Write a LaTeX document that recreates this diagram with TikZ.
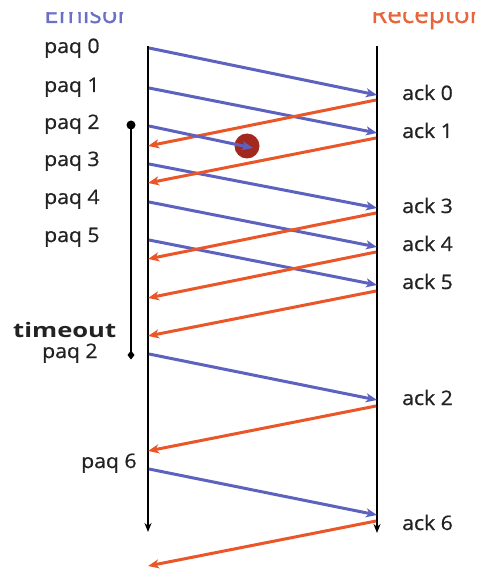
\documentclass[tikz,border=0pt]{standalone}
\usepackage{fontspec}
\setmainfont{Open Sans}
\newfontfamily\lblfont{Open Sans}[FakeBold=0.7,FakeStretch=1.06]
\newfontfamily\headfont{Open Sans}[FakeBold=0.8]
\newfontfamily\timefont{Open Sans}
\usetikzlibrary{arrows.meta}
\definecolor{sendblue}{HTML}{5C62BE}
\definecolor{headblue}{HTML}{6A70C6}
\definecolor{ackorange}{HTML}{EA5628}
\definecolor{headorange}{HTML}{E8643A}
\definecolor{lostred}{HTML}{A3291F}
\definecolor{lbltext}{HTML}{222222}
\tikzset{
  lbl/.style={font=\lblfont\fontsize{20}{22}\selectfont, anchor=base west, inner sep=0pt, text=lbltext},
  head/.style={font=\headfont\fontsize{26}{28}\selectfont, anchor=base west, inner sep=0pt},
  pkt/.style={draw=sendblue, line width=3pt, -{Stealth[length=11pt,width=9pt,inset=3pt]}},
  ackar/.style={draw=ackorange, line width=3pt, -{Stealth[length=11pt,width=9pt,inset=3pt]}},
  lifeline/.style={draw=black, line width=2.4pt, -{Stealth[length=9pt,width=7pt]}},
}
\begin{document}
\begin{tikzpicture}[x=1pt,y=-1pt]
\useasboundingbox (0,0) rectangle (480,572);
\clip (0,13) rectangle (480,572);
% headers
\node[head, text=headblue] (em) at (44,23) {Emisor};
\node[head, text=headorange] (rc) at (371,23) {Receptor};
% lifelines
\coordinate (lt) at (148,46);
\coordinate (lb) at (148,532);
\coordinate (rt) at (377,46);
\coordinate (rb) at (377,533);
\draw[lifeline] (lt) -- (lb);
\draw[lifeline] (rt) -- (rb);
% timer
\coordinate (tt) at (131,125);
\coordinate (tb) at (131,355);
\draw[line width=2.4pt] (tt) -- (tb);
\fill (tt) circle (4.5pt);
\fill (tb) ++(0,-4.5) -- ++(3.5,4.5) -- ++(-3.5,4.5) -- ++(-3.5,-4.5) -- cycle;
% lost circle
\node[circle, fill=lostred, minimum size=25pt, inner sep=0pt] (lost) at (247,146) {};
% sender labels
\node[lbl] (p0) at (44,53) {paq 0};
\node[lbl] (p1) at (44,92) {paq 1};
\node[lbl] (p2) at (44,129) {paq 2};
\node[lbl] (p3) at (44,166) {paq 3};
\node[lbl] (p4) at (44,204) {paq 4};
\node[lbl] (p5) at (44,242) {paq 5};
\node[lbl, font=\timefont\fontsize{20}{22}\selectfont\bfseries\addfontfeatures{FakeStretch=1.28}] (to) at (13,337) {timeout};
\node[lbl] (p2b) at (42,358) {paq 2};
\node[lbl] (p6) at (81,468) {paq 6};
% receiver labels
\node[lbl] (a0) at (402,100) {ack 0};
\node[lbl] (a1) at (402,138) {ack 1};
\node[lbl] (a3) at (402,213) {ack 3};
\node[lbl] (a4) at (402,251) {ack 4};
\node[lbl] (a5) at (402,289) {ack 5};
\node[lbl] (a2) at (402,405) {ack 2};
\node[lbl] (a6) at (402,530) {ack 6};
% endpoints
\coordinate (s0) at (149,48);  \coordinate (e0) at (377,95);
\coordinate (s1) at (149,88);  \coordinate (e1) at (377,133);
\coordinate (s2) at (149,126); \coordinate (e2) at (253,148);
\coordinate (s3) at (149,164); \coordinate (e3) at (377,208);
\coordinate (s4) at (149,202); \coordinate (e4) at (377,247);
\coordinate (s5) at (149,240); \coordinate (e5) at (377,285);
\coordinate (s2b) at (149,354); \coordinate (e2b) at (377,400);
\coordinate (s6) at (149,469); \coordinate (e6) at (377,515);
\coordinate (k0) at (376,100); \coordinate (m0) at (148,146);
\coordinate (k1) at (376,138); \coordinate (m1) at (148,183);
\coordinate (k3) at (376,213); \coordinate (m3) at (148,259);
\coordinate (k4) at (376,252); \coordinate (m4) at (148,298);
\coordinate (k5) at (376,291); \coordinate (m5) at (148,336);
\coordinate (k2) at (376,406); \coordinate (m2) at (148,451);
\coordinate (k6) at (376,521); \coordinate (m6) at (148,566);
% packets
\draw[pkt] (s0) -- (e0);
\draw[pkt] (s1) -- (e1);
\draw[pkt] (s3) -- (e3);
\draw[pkt] (s4) -- (e4);
\draw[pkt] (s5) -- (e5);
\draw[pkt] (s2b) -- (e2b);
\draw[pkt] (s6) -- (e6);
% acks
\draw[ackar] (k0) -- (m0);
\draw[ackar] (k1) -- (m1);
\draw[ackar] (k3) -- (m3);
\draw[ackar] (k4) -- (m4);
\draw[ackar] (k5) -- (m5);
\draw[ackar] (k2) -- (m2);
\draw[ackar] (k6) -- (m6);
% lost packet on top of circle
\draw[pkt] (s2) -- (e2);
\end{tikzpicture}
\end{document}
